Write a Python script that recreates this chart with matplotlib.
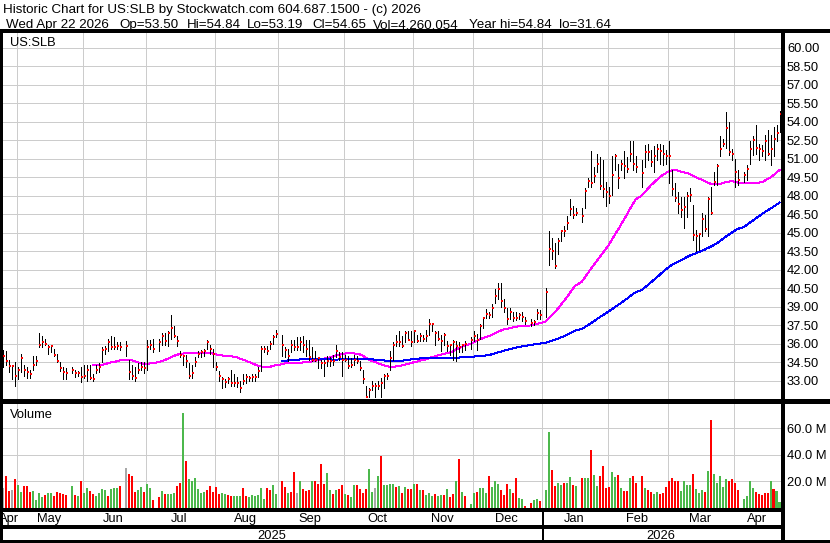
import numpy as np
import pandas as pd
import matplotlib
matplotlib.use("Agg")
import matplotlib.pyplot as plt

plt.rcParams['font.family'] = ['Liberation Sans', 'DejaVu Sans']

# ---- US:SLB daily bars ----
first_day = '2025-04-24'
last_day = '2026-04-22'
holidays = ['2025-05-26', '2025-06-19', '2025-07-04', '2025-09-01', '2025-11-27',
            '2025-12-25', '2026-01-01', '2026-01-19', '2026-02-16', '2026-04-03']

closes = [
    # Apr 24 - May 23
    35.0, 34.6, 34.2, 34.2, 33.4, 33.9, 34.8, 33.9, 33.7, 33.5, 34.3, 34.6, 35.9, 36.1,
    36.0, 35.7, 35.8, 35.1, 34.6, 34.0, 33.7, 33.6,
    # May 27 - Jun 18
    33.9, 33.6, 33.6, 33.3, 33.4, 33.9, 33.2, 33.1, 33.9, 34.1, 35.5, 35.6, 36.1, 35.7,
    35.7, 35.8, 35.7,
    # Jun 20 - Jul 3
    35.8, 33.7, 33.4, 33.2, 33.9, 34.1, 34.0, 35.7, 35.9, 35.6,
    # Jul 7 - Aug 29
    36.1, 36.6, 36.2, 36.9, 37.3, 36.6, 36.2, 35.1, 35.0, 34.6, 33.4, 33.6, 34.55, 35.15,
    35.3, 35.4, 36.1, 35.6, 35.15, 34.1, 33.4, 33.1, 32.9, 33.1, 32.8, 32.8, 32.8, 32.4,
    33.0, 33.3, 33.25, 33.3, 33.3, 33.8, 35.6, 35.55, 35.4, 36.0, 36.5, 36.8,
    # Sep 2 - Nov 26
    35.9, 35.5, 35.0, 35.9, 35.7, 35.7, 36.1, 35.9, 35.6, 34.9,
    34.7, 34.7, 34.8, 34.4, 34.4, 34.6, 34.6, 34.6, 35.4, 34.9,
    34.7, 34.7, 34.2, 34.3, 34.7, 34.6, 34.0, 33.1, 31.7, 32.2,
    32.6, 32.6, 32.6, 32.8, 33.4, 33.4, 34.8, 35.9, 36.1, 36.1,
    35.8, 36.9, 36.3, 36.1, 37.0, 36.2, 36.6, 36.4, 36.6, 37.6,
    37.6, 36.9, 36.4, 36.2, 36.7, 35.8, 35.9, 36.1, 35.8, 35.7,
    35.9, 36.0,
    # Nov 28 - Dec 24
    36.3, 36.6, 36.3, 37.4, 38.1, 38.4, 38.3, 38.9, 39.9, 40.4, 39.45, 38.85, 38.0, 38.55,
    38.1, 38.1, 38.35, 38.15, 37.85,
    # Dec 26 - Dec 31
    37.7, 37.75, 38.5, 38.3,
    # Jan 2 - Jan 16
    40.2, 43.7, 43.5, 42.3, 44.35, 45.1, 45.1, 45.8, 46.9, 46.4, 46.6,
    # Jan 20 - Feb 13
    46.35, 48.4, 49.2, 49.05, 49.6, 50.6, 48.8, 48.5, 48.3, 48.0, 49.7, 51.2, 49.4, 50.6,
    50.4, 50.2, 51.4, 50.6, 50.3,
    # Feb 17 - Apr 2
    49.8, 51.5, 51.5, 50.75, 51.2, 51.75, 51.6, 51.4, 51.2, 51.2,
    48.5, 47.8, 47.3, 46.8, 47.1, 48.0, 48.05, 44.8, 44.7, 44.9,
    46.1, 45.3, 47.7, 46.6, 49.1, 50.4, 51.8, 52.2, 53.5, 51.5,
    51.4, 49.9, 49.3,
    # Apr 6 - Apr 22
    49.7, 50.2, 51.8, 52.5, 51.9, 51.8, 51.6, 52.4, 51.4, 51.8, 52.6, 53.05, 54.65,
]

highs = [
    35.5, 35.4, 34.7, 34.3, 34.5, 34.1, 35.2, 34.3, 34.1, 33.9, 35.0, 35.0, 36.9, 36.6,
    36.4, 35.9, 35.9, 35.6, 35.2, 34.5, 34.1, 34.0,
    34.1, 33.9, 33.8, 34.1, 34.3, 34.3, 34.3, 33.5, 34.3, 34.4, 35.7, 35.8, 36.4, 36.6,
    36.5, 36.1, 36.1,
    36.2, 34.7, 34.3, 34.1, 34.4, 34.5, 34.5, 36.3, 36.3, 36.4,
    36.4, 36.9, 36.9, 37.0, 38.3, 37.4, 36.6, 35.4, 35.1, 35.1, 34.4, 34.3, 34.9, 35.4,
    35.5, 35.6, 36.3, 35.9, 35.6, 34.5, 33.8, 33.3, 33.1, 33.3, 33.9, 33.5, 33.3, 33.0,
    33.5, 33.5, 33.4, 33.5, 33.5, 34.1, 35.8, 35.8, 35.8, 36.2, 36.7, 37.1,
    36.7, 35.7, 35.6, 36.3, 36.3, 36.5, 36.5, 36.6, 36.3, 36.3,
    35.7, 35.4, 34.8, 34.7, 34.7, 35.0, 34.9, 35.1, 35.9, 35.3,
    35.3, 35.1, 35.0, 34.8, 35.1, 35.0, 34.6, 33.9, 32.6, 32.4,
    33.0, 32.8, 33.0, 33.2, 33.5, 33.6, 35.4, 36.1, 36.7, 37.0,
    36.6, 37.0, 37.0, 37.0, 37.1, 36.7, 36.9, 36.7, 37.1, 38.0,
    37.7, 37.0, 37.0, 36.7, 36.9, 36.2, 35.9, 36.3, 36.2, 36.1,
    35.9, 36.2,
    36.5, 37.0, 36.8, 37.6, 38.2, 38.8, 38.6, 39.2, 40.4, 40.9, 40.9, 39.6, 38.9, 38.9,
    38.6, 38.6, 38.5, 38.6, 38.2,
    38.0, 37.9, 38.8, 38.7,
    40.5, 45.1, 44.6, 44.2, 44.6, 45.2, 45.5, 46.35, 47.7, 47.2, 47.0,
    47.0, 48.6, 49.4, 51.6, 50.35, 51.4, 51.1, 50.9, 49.1, 48.7, 51.2, 51.4, 50.6, 50.9,
    51.6, 51.1, 52.4, 52.4, 51.2,
    50.9, 52.1, 52.2, 51.7, 52.0, 52.2, 52.2, 52.1, 51.7, 52.4,
    50.1, 49.0, 48.3, 47.9, 47.9, 48.3, 48.6, 47.25, 45.2, 44.9,
    46.6, 46.4, 47.9, 48.7, 49.9, 50.6, 52.8, 52.6, 54.8, 54.0,
    51.8, 51.0, 50.1,
    49.9, 50.5, 52.4, 52.8, 53.7, 52.2, 52.1, 52.9, 53.3, 52.9, 53.6, 53.7, 54.84,
]

lows = [
    34.1, 34.3, 33.7, 33.1, 32.6, 33.1, 33.7, 33.4, 33.2, 33.2, 33.9, 34.3, 35.7, 35.7,
    35.9, 35.2, 35.3, 35.0, 34.5, 33.8, 33.1, 33.1,
    33.6, 33.3, 33.4, 32.9, 33.2, 33.0, 33.1, 33.0, 33.6, 33.7, 34.5, 35.2, 35.4, 35.6,
    35.6, 35.6, 35.5,
    35.0, 33.1, 33.1, 33.0, 33.6, 33.9, 33.6, 33.9, 35.6, 35.3,
    35.4, 35.9, 35.9, 35.8, 36.4, 36.5, 35.8, 34.9, 34.3, 34.1, 33.2, 33.2, 34.2, 34.9,
    34.9, 35.0, 35.6, 35.2, 34.1, 33.9, 33.0, 32.4, 32.5, 32.8, 32.6, 32.6, 32.5, 32.1,
    32.7, 32.8, 33.0, 33.0, 33.0, 33.3, 33.8, 35.3, 35.2, 35.6, 36.0, 36.5,
    35.0, 34.9, 34.6, 35.3, 35.5, 35.5, 35.5, 35.3, 35.0, 34.7,
    34.6, 34.6, 34.0, 34.0, 33.4, 34.2, 34.2, 34.3, 34.9, 34.7,
    33.4, 34.6, 34.0, 34.1, 34.3, 34.4, 33.9, 32.8, 31.64, 31.7,
    32.2, 31.7, 32.3, 31.7, 32.4, 33.1, 33.9, 34.7, 35.8, 35.8,
    35.7, 36.1, 36.3, 35.8, 36.1, 36.1, 36.2, 36.2, 36.2, 36.7,
    37.0, 35.9, 36.3, 35.4, 35.9, 35.4, 35.1, 34.7, 34.6, 35.3,
    35.3, 35.5,
    35.6, 36.2, 35.5, 36.4, 37.3, 38.1, 38.1, 38.2, 39.3, 39.6, 39.0, 38.6, 37.6, 38.0,
    37.8, 37.9, 38.0, 37.8, 37.6,
    37.4, 37.5, 38.0, 38.0,
    38.2, 42.4, 42.9, 42.1, 43.3, 44.3, 44.7, 45.3, 46.4, 46.2, 46.4,
    45.9, 47.0, 48.7, 48.7, 49.1, 49.9, 48.5, 47.9, 47.2, 47.4, 48.05, 50.1, 48.6, 50.1,
    49.4, 49.9, 50.8, 50.1, 49.9,
    48.7, 50.35, 50.9, 50.4, 49.9, 50.9, 50.6, 50.5, 50.6, 49.0,
    48.05, 47.6, 46.6, 46.3, 45.35, 46.3, 47.6, 44.4, 43.55, 43.6,
    44.7, 45.1, 44.7, 46.5, 48.85, 48.85, 51.2, 52.0, 51.9, 51.3,
    50.9, 48.7, 48.9,
    49.1, 49.3, 50.6, 51.3, 51.4, 50.9, 51.2, 50.9, 51.3, 50.5, 51.2, 52.4, 53.19,
]

# volume in millions of shares, colour code per day (g = up, r = down, n = unchanged)
volumes = [
    14.7, 23.7, 12.4, 13.7, 21.4, 17.5, 12.1, 16.8, 16.8, 11.6, 12.9, 5.9, 11.4, 8.3,
    9.8, 11.4, 11.4, 9.0, 12.1, 11.4, 10.6, 9.8,
    16.8, 9.8, 9.0, 19.9, 11.4, 15.0, 12.9, 10.6, 9.0, 11.4, 14.4, 13.7, 9.0, 14.4,
    15.2, 15.2, 16.8,
    29.9, 25.3, 23.7, 12.1, 13.7, 16.0, 12.1, 18.3, 15.2, 5.9,
    8.3, 12.9, 10.6, 10.6, 10.6, 11.4, 16.8, 19.1, 71.7, 35.3, 21.4, 20.1, 22.2, 14.4,
    10.8, 12.1, 13.7, 16.8, 12.1, 16.0, 10.6, 11.4, 10.6, 9.8, 9.0, 9.0, 9.0, 9.0,
    15.2, 9.0, 8.3, 9.8, 9.0, 9.8, 15.2, 6.7, 15.2, 13.7, 17.5, 10.6,
    19.9, 16.0, 11.4, 12.1, 26.8, 11.4, 19.9, 14.4, 12.9, 13.7,
    19.9, 19.9, 18.3, 33.0, 18.3, 26.1, 13.7, 10.6, 13.7, 14.4,
    17.5, 10.6, 9.8, 8.3, 17.5, 17.5, 14.4, 11.4, 14.4, 29.2,
    12.1, 15.2, 23.7, 39.2, 17.5, 17.5, 18.3, 18.3, 16.0, 16.8,
    11.4, 16.0, 14.4, 14.4, 18.3, 18.3, 13.7, 13.7, 9.8, 11.4,
    9.0, 10.6, 9.0, 9.8, 9.8, 14.4, 8.3, 10.6, 19.9, 36.9,
    12.1, 9.0,
    2.8, 11.4, 12.1, 15.2, 15.0, 11.4, 23.7, 16.0, 19.9, 18.3, 13.7, 9.8, 18.3, 14.4,
    11.4, 22.2, 7.5, 6.7, 1.3,
    3.6, 5.9, 6.7, 5.2,
    13.7, 57.0, 28.4, 16.8, 19.1, 17.5, 19.1, 19.1, 23.0, 17.5, 16.8,
    22.2, 22.2, 22.2, 43.9, 24.5, 16.8, 23.7, 31.5, 15.2, 16.0, 26.8, 23.0, 24.5, 15.2,
    12.9, 12.9, 22.2, 23.7, 19.1,
    23.7, 15.2, 13.7, 12.1, 10.6, 12.1, 10.6, 11.4, 16.0, 19.9,
    22.2, 19.9, 19.9, 12.9, 20.6, 17.5, 17.5, 25.3, 14.4, 11.4,
    13.7, 12.1, 27.6, 66.3, 25.3, 19.1, 23.7, 16.0, 21.4, 20.6,
    21.4, 19.1, 13.7,
    6.7, 9.0, 20.6, 15.2, 12.1, 10.6, 9.8, 11.4, 11.4, 19.9, 14.4, 12.9, 4.26,
]
vol_codes = ("nrrnrggrrrggggrggrrrrr" "grgrggrrggggrgggr" "nrrrggrggr"
             "rgrgggrrgrggggggrrrrrggrrgggrrggggggrrgg"
             "rrgrrngrrr" "grrrrggrgr" "rgrggrrrrg" "gngrggggrg" "rgrrgrgrgg" "grggrgrrgr" "gr"
             "ggrgggrgggrrrgrrggr" "rggr" "ggrrggrggrg" "rggrggrrrrggrgrrgrr"
             "rgrrggrrrr" "rrrggggrgg" "grgrgggggr" "rrr" "ggggrrrrrgrgg")

header1 = "Historic Chart for US:SLB by Stockwatch.com 604.687.1500 - (c) 2026"
header2 = [("Wed Apr 22 2026", 6), ("Op=53.50", 119), ("Hi=54.84", 187), ("Lo=53.19", 247),
           ("Cl=54.65", 312), ("Vol=4,260,054", 373), ("Year hi=54.84  lo=31.64", 469)]
price_ticks = [33.0, 34.5, 36.0, 37.5, 39.0, 40.5, 42.0, 43.5, 45.0, 46.5, 48.0, 49.5,
               51.0, 52.5, 54.0, 55.5, 57.0, 58.5, 60.0]
vol_ticks = [20, 40, 60]

# ---- calendar: one slot per weekday, holidays left empty ----
days = pd.bdate_range(first_day, last_day)
open_day = ~days.isin(pd.to_datetime(holidays))
x = np.arange(len(days))[open_day]
assert len(x) == len(closes) == len(highs) == len(lows) == len(volumes) == len(vol_codes)

ma_short = pd.Series(closes).rolling(30).mean()
ma_long = pd.Series(closes).rolling(90).mean()

month_key = days.year * 12 + days.month
month_starts = np.flatnonzero(np.r_[True, month_key[1:] != month_key[:-1]])
year_starts = np.flatnonzero(np.r_[True, days.year[1:] != days.year[:-1]])

# ---- layout in pixels ----
W, H = 830, 543
fig = plt.figure(figsize=(W / 100, H / 100), dpi=100)


def box(x0, y0, x1, y1):
    return fig.add_axes([x0 / W, 1 - y1 / H, (x1 - x0) / W, (y1 - y0) / H])


X0, X1 = 2.0, 781.7
xlim = ((X0 - 2.5) / 3, (X1 - 2.5) / 3)   # slot i centred on pixel 2.5 + 3 i
FS = 9.3
GRID = dict(color='#cccccc', lw=0.72, antialiased=False)

ax = box(X0, 32, X1, 399.5)
ax.set_xlim(*xlim)
ax.set_ylim(31.47, 61.27)
ax.set_xticks(month_starts - 0.3)
ax.set_yticks(price_ticks)
ax.set_yticklabels([f'{v:.2f}' for v in price_ticks])
ax.yaxis.tick_right()
ax.tick_params(axis='y', length=0, pad=3.8, labelsize=FS)
ax.tick_params(axis='x', length=0, labelbottom=False)
ax.grid(True, **GRID)
ax.set_axisbelow(True)
for s in ax.spines.values():
    s.set_visible(False)

ax.vlines(x, lows, highs, color='black', lw=0.72, antialiased=False, zorder=3)
ax.hlines(closes, x + 0.17, x + 0.83, color='#ff0000', lw=1.44, antialiased=False, zorder=4)
ax.plot(x, ma_short, color='#ff00ff', lw=0.72, antialiased=False, zorder=2)
ax.plot(x, ma_long, color='#0000ff', lw=0.72, antialiased=False, zorder=2)

axv = box(X0, 402.5, X1, 507.8)
axv.set_xlim(*xlim)
axv.set_ylim(0, 79.5)
axv.set_xticks(month_starts - 0.3)
axv.set_yticks(vol_ticks)
axv.set_yticklabels([f'{v:.1f} M' for v in vol_ticks])
axv.yaxis.tick_right()
axv.tick_params(axis='y', length=0, pad=3.8, labelsize=FS)
axv.tick_params(axis='x', length=0, labelbottom=False)
axv.grid(True, **GRID)
axv.set_axisbelow(True)
for s in axv.spines.values():
    s.set_visible(False)
palette = {'g': '#4cb84c', 'r': '#ff0000', 'n': '#a8a8a8'}
axv.bar(x, volumes, width=0.67, color=[palette[c] for c in vol_codes],
        lw=0, antialiased=False, zorder=2)

# month and year rows
axm = box(X0, 510.7, X1, 526.7)
axm.set_xlim(*xlim)
axm.set_ylim(526.7, 510.7)
axm.axis('off')
axy = box(X0, 528, X1, 541.5)
axy.set_xlim(*xlim)
axy.set_ylim(541.5, 528)
axy.axis('off')

bounds = list(month_starts) + [len(days)]
for s, e in zip(bounds[:-1], bounds[1:]):
    c = (max(s - 0.5, xlim[0]) + min(e - 0.5, xlim[1])) / 2
    axm.text(c, 522, days[s].strftime('%b'), ha='center', va='baseline', fontsize=FS)
ybounds = list(year_starts) + [len(days)]
for s, e in zip(ybounds[:-1], ybounds[1:]):
    c = (max(s - 0.5, xlim[0]) + min(e - 0.5, xlim[1])) / 2
    axy.text(c, 539, str(days[s].year), ha='center', va='baseline', fontsize=FS)
for s in year_starts[1:]:
    axm.axvline(s, color='black', lw=1.4, antialiased=False)
    axy.axvline(s, color='black', lw=1.4, antialiased=False)

# frame and header, drawn in pixel space
ov = fig.add_axes([0, 0, 1, 1], zorder=10)
ov.set_xlim(0, W)
ov.set_ylim(H, 0)
ov.axis('off')
k = dict(color='black', solid_capstyle='butt', antialiased=False)
ov.plot([0, W], [31.3, 31.3], lw=1.5, **k)
ov.plot([1, 1], [31, H], lw=1.5, **k)
ov.plot([782.7, 782.7], [31, H], lw=1.5, **k)
ov.plot([0, W], [400.0, 400.0], lw=0.75, **k)
ov.plot([0, W], [402.0, 402.0], lw=0.75, **k)
ov.plot([0, 782.7], [509.5, 509.5], lw=1.7, **k)
ov.plot([0, 782.7], [527.2, 527.2], lw=1.5, **k)
ov.plot([0, W], [541.8, 541.8], lw=1.5, **k)

ov.text(3, 13.3, header1, fontsize=9.6, va='baseline')
for txt, xp in header2:
    ov.text(xp, 28, txt, fontsize=9.6, va='baseline')
ov.text(9.5, 46.5, "US:SLB", fontsize=FS, va='baseline')
ov.text(9.5, 418, "Volume", fontsize=FS, va='baseline')

fig.savefig('out.png', dpi=100, facecolor='white')
